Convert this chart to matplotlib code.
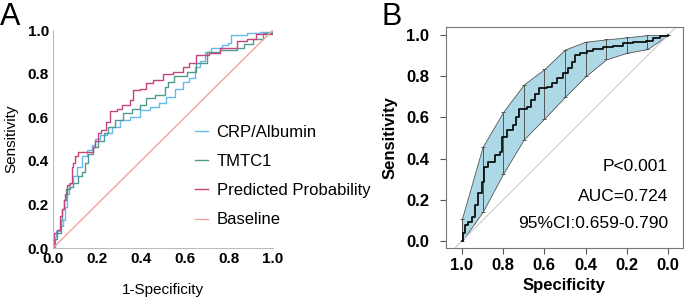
import matplotlib
matplotlib.use('Agg')
from matplotlib import pyplot as plt
import numpy as np

plt.rcParams['font.family'] = ['Liberation Sans', 'DejaVu Sans']

# panel A: (1-specificity, sensitivity)
crp_x = [0.0, 0.005, 0.015, 0.03, 0.045, 0.055, 0.062, 0.074, 0.092, 0.107, 0.13, 0.153, 0.176, 0.19,
         0.214, 0.244, 0.267, 0.305, 0.35, 0.395, 0.44, 0.48, 0.516, 0.555, 0.59, 0.62, 0.645, 0.67,
         0.69, 0.72, 0.767, 0.797, 0.81, 0.88, 0.94, 1.0]
crp_y = [0.0, 0.05, 0.08, 0.10, 0.13, 0.19, 0.25, 0.297, 0.33, 0.37, 0.42, 0.45, 0.472, 0.50,
         0.52, 0.526, 0.557, 0.587, 0.602, 0.633, 0.648, 0.664, 0.694, 0.73, 0.76, 0.78, 0.83, 0.86,
         0.90, 0.92, 0.93, 0.94, 0.976, 0.985, 0.99, 1.0]
tmtc_x = [0.0, 0.008, 0.02, 0.035, 0.04, 0.048, 0.06, 0.075, 0.09, 0.115, 0.13, 0.145, 0.16, 0.18,
          0.205, 0.23, 0.25, 0.28, 0.32, 0.36, 0.395, 0.425, 0.465, 0.51, 0.525, 0.55, 0.61, 0.65,
          0.70, 0.76, 0.835, 0.87, 0.91, 0.955, 1.0]
tmtc_y = [0.0, 0.04, 0.07, 0.13, 0.18, 0.22, 0.27, 0.28, 0.30, 0.33, 0.35, 0.39, 0.43, 0.465,
          0.49, 0.53, 0.557, 0.587, 0.618, 0.64, 0.656, 0.687, 0.70, 0.74, 0.76, 0.79, 0.81, 0.85,
          0.90, 0.91, 0.92, 0.937, 0.96, 0.985, 1.0]
pred_x = [0.0, 0.005, 0.02, 0.03, 0.04, 0.048, 0.055, 0.062, 0.075, 0.085, 0.092, 0.1, 0.115, 0.18,
          0.19, 0.205, 0.22, 0.24, 0.26, 0.29, 0.312, 0.35, 0.365, 0.395, 0.425, 0.455, 0.50, 0.545,
          0.59, 0.62, 0.65, 0.71, 0.76, 0.835, 0.88, 0.925, 1.0]
pred_y = [0.0, 0.07, 0.085, 0.145, 0.18, 0.22, 0.25, 0.29, 0.30, 0.37, 0.39, 0.42, 0.44, 0.465,
          0.49, 0.526, 0.54, 0.58, 0.63, 0.64, 0.656, 0.68, 0.725, 0.73, 0.755, 0.77, 0.80, 0.81,
          0.83, 0.85, 0.885, 0.893, 0.92, 0.95, 0.96, 0.98, 1.0]

# panel B: (specificity, sensitivity) with CI
roc_spec = [1.0, 0.994, 0.985, 0.969, 0.953, 0.937, 0.921, 0.905, 0.893, 0.872, 0.840, 0.816, 0.807,
            0.783, 0.754, 0.738, 0.722, 0.686, 0.667, 0.646, 0.625, 0.589, 0.565, 0.540, 0.508,
            0.484, 0.468, 0.451, 0.427, 0.395, 0.362, 0.314, 0.265, 0.217, 0.168, 0.104, 0.071,
            0.039, 0.0]
roc_sens = [0.0, 0.037, 0.078, 0.094, 0.118, 0.175, 0.231, 0.288, 0.361, 0.385, 0.417, 0.434, 0.506,
            0.539, 0.563, 0.604, 0.639, 0.649, 0.684, 0.714, 0.741, 0.749, 0.769, 0.794, 0.814,
            0.838, 0.871, 0.903, 0.914, 0.922, 0.935, 0.940, 0.948, 0.960, 0.966, 0.972, 0.984,
            0.995, 1.0]
ci_spec = [1.0, 0.9, 0.8, 0.7, 0.6, 0.5, 0.4, 0.3, 0.2, 0.1, 0.0]
ci_low = [0.0, 0.141, 0.327, 0.493, 0.595, 0.700, 0.800, 0.882, 0.914, 0.932, 1.0]
ci_high = [0.109, 0.457, 0.627, 0.760, 0.835, 0.930, 0.968, 0.979, 0.989, 1.0, 1.0]

fig = plt.figure(figsize=(6.85, 3.01), dpi=100)

# ---- panel A
ax = fig.add_axes([0.0774, 0.176, 0.321, 0.724])
ax.plot(crp_x, crp_y, color='#66BBEE', lw=1.0, drawstyle='steps-post', label='CRP/Albumin')
ax.plot(tmtc_x, tmtc_y, color='#4E9C90', lw=1.0, drawstyle='steps-post', label='TMTC1')
ax.plot(pred_x, pred_y, color='#C4457C', lw=1.0, drawstyle='steps-post', label='Predicted Probability')
ax.plot([0, 1], [0, 1], color='#F4A3A3', lw=1.0, label='Baseline')
ax.set_xlim(0, 1)
ax.set_ylim(0, 1)
ax.set_xticks(np.arange(0, 1.01, 0.2))
ax.set_yticks(np.arange(0, 1.01, 0.2))
ax.tick_params(length=0, labelsize=11, pad=3)
for lab in ax.get_xticklabels() + ax.get_yticklabels():
    lab.set_fontweight('bold')
for s in ['top', 'right']:
    ax.spines[s].set_visible(False)
for s in ['left', 'bottom']:
    ax.spines[s].set_color('#BBBBBB')
ax.set_xlabel('1-Specificity', fontsize=11, labelpad=12)
ax.set_ylabel('Sensitivity', fontsize=11, labelpad=7)
leg = ax.legend(loc='upper left', bbox_to_anchor=(0.645, 0.565), frameon=False, fontsize=12,
                handlelength=0.8, handletextpad=0.5, labelspacing=0.85, borderaxespad=0,
                borderpad=0)
fig.text(0.0, 0.995, 'A', fontsize=22, va='top', ha='left')

# ---- panel B
bx = fig.add_axes([0.651, 0.176, 0.346, 0.734])
bx.fill_between(ci_spec, ci_low, ci_high, color='#ADD8E6', edgecolor='#555555', lw=0.6)
bx.errorbar(ci_spec, [(a + b) / 2 for a, b in zip(ci_low, ci_high)],
            yerr=[[(b - a) / 2 for a, b in zip(ci_low, ci_high)]] * 2,
            fmt='none', ecolor='#555555', elinewidth=0.7, capsize=1.5, capthick=0.7)
bx.axline((1, 0), (0, 1), color='#CCCCCC', lw=0.8)
bx.plot(roc_spec, roc_sens, color='black', lw=1.2, drawstyle='steps-post')
bx.set_xlim(1.078, -0.073)
bx.set_ylim(-0.034, 1.039)
bx.set_xticks(np.arange(0, 1.01, 0.2))
bx.set_yticks(np.arange(0, 1.01, 0.2))
bx.tick_params(direction='out', length=4, width=0.8, color='#555555', labelsize=12, pad=3)
bx.tick_params(axis='y', pad=8)
for lab in bx.get_xticklabels() + bx.get_yticklabels():
    lab.set_fontweight('bold')
for s in bx.spines.values():
    s.set_color('#777777')
bx.set_xlabel('Specificity', fontsize=12, fontweight='bold', labelpad=4)
bx.set_ylabel('Sensitivity', fontsize=12, fontweight='bold', labelpad=6)
bx.text(0.0, 0.36, 'P<0.001', fontsize=12.5, ha='right', va='center')
bx.text(0.0, 0.214, 'AUC=0.724', fontsize=12.5, ha='right', va='center')
bx.text(0.0, 0.087, '95%CI:0.659-0.790', fontsize=12.5, ha='right', va='center')
fig.text(0.557, 0.995, 'B', fontsize=22, va='top', ha='left')

fig.savefig('out.png', dpi=100)
